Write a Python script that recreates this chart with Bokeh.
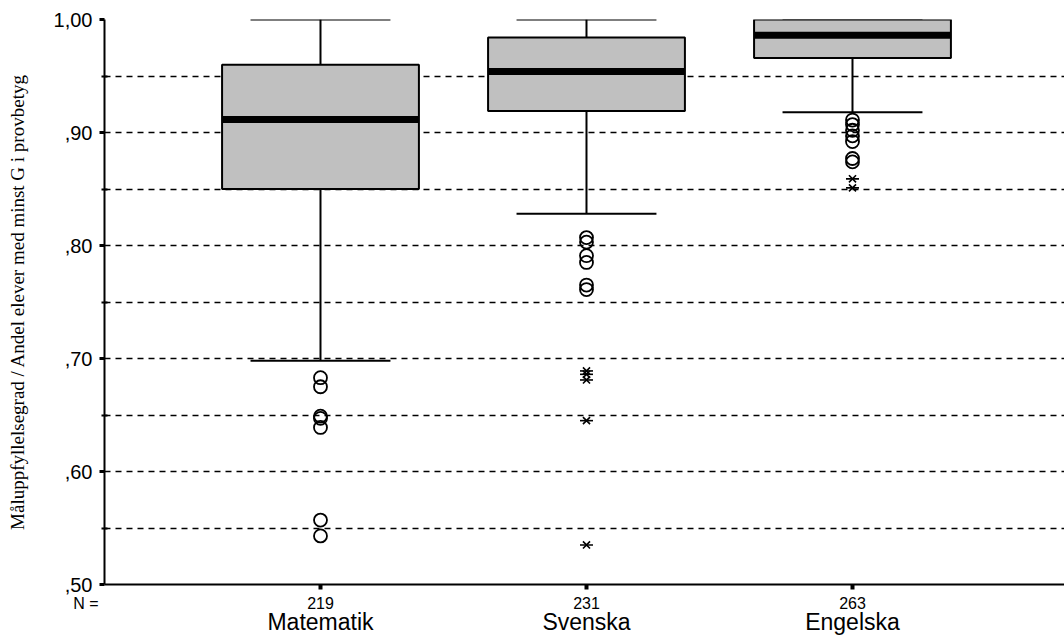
from bokeh.plotting import figure
from bokeh.models import Range1d, FixedTicker, CustomJSTickFormatter, LinearAxis, Label, ColumnDataSource
from bokeh.embed import file_html
from bokeh.resources import INLINE

# ---------------- data ----------------
categories = ["Matematik", "Svenska", "Engelska"]
n_values = [219, 231, 263]
q1 = [0.850, 0.919, 0.966]
median = [0.9115, 0.954, 0.986]
q3 = [0.960, 0.984, 1.000]
whisker_low = [0.698, 0.828, 0.918]
whisker_high = [1.000, 1.000, 1.000]

mat_circles = [0.683, 0.675, 0.649, 0.647, 0.639, 0.557, 0.543]
sve_circles = [0.807, 0.803, 0.791, 0.785, 0.765, 0.761]
sve_stars = [0.689, 0.686, 0.681, 0.645, 0.535]
eng_circles = [0.911, 0.907, 0.902, 0.897, 0.892, 0.877, 0.874]
eng_stars = [0.859, 0.851]

y_ticks = [0.5, 0.6, 0.7, 0.8, 0.9, 1.0]
y_minor = [0.55, 0.65, 0.75, 0.85, 0.95]

# ---------------- figure ----------------
xs = [i + 1 for i in range(len(categories))]
x0 = 0.188
frame_w = 960
unit_px = 266.0
px_per_y = 565 / 0.5

p = figure(width=1064, height=644, output_backend="svg", toolbar_location=None,
           x_axis_location=None,
           x_range=Range1d(x0, x0 + frame_w / unit_px), y_range=Range1d(0.5, 1.0),
           min_border_left=104, min_border_right=0, min_border_top=19, min_border_bottom=60)
p.outline_line_color = None
p.background_fill_color = "white"
p.border_fill_color = "white"

# grid
p.xgrid.visible = False
p.ygrid.ticker = FixedTicker(ticks=y_ticks, minor_ticks=y_minor)
p.ygrid.grid_line_color = "black"
p.ygrid.grid_line_dash = "6 5"
p.ygrid.grid_line_width = 1.5
p.ygrid.minor_grid_line_color = "black"
p.ygrid.minor_grid_line_dash = "6 5"
p.ygrid.minor_grid_line_width = 1.5

# y axis
yax = p.yaxis[0]
yax.ticker = FixedTicker(ticks=y_ticks, minor_ticks=y_minor)
yax.formatter = CustomJSTickFormatter(code="return tick >= 0.995 ? '1,00' : ',' + Math.round(tick*100).toString();")
yax.axis_line_color = "black"
yax.axis_line_width = 2
yax.major_tick_line_color = "black"
yax.major_tick_line_width = 3
yax.major_tick_out = 5
yax.major_tick_in = 0
yax.minor_tick_line_color = "black"
yax.minor_tick_line_width = 2
yax.minor_tick_out = 3
yax.minor_tick_in = 3
yax.major_label_text_font = "Liberation Sans"
yax.major_label_text_font_size = "20px"
yax.major_label_text_color = "black"
yax.major_label_standoff = 7
yax.axis_label = "Måluppfyllelsegrad / Andel elever med minst G i provbetyg"
yax.axis_label_text_font = "Liberation Serif"
yax.axis_label_text_font_style = "normal"
yax.axis_label_text_font_size = "19px"
yax.axis_label_text_color = "black"
yax.axis_label_standoff = 23

# x axis with N values
nax = LinearAxis(ticker=FixedTicker(ticks=xs),
                 major_label_overrides={x: str(n) for x, n in zip(xs, n_values)})
nax.axis_line_color = "black"
nax.axis_line_width = 2
nax.major_tick_line_color = "black"
nax.major_tick_line_width = 4
nax.major_tick_out = 5
nax.major_tick_in = 0
nax.minor_tick_line_color = None
nax.major_label_text_font = "Liberation Sans"
nax.major_label_text_font_size = "16px"
nax.major_label_text_color = "black"
nax.major_label_standoff = 7
p.add_layout(nax, "below")

# category names row
cax = LinearAxis(ticker=FixedTicker(ticks=xs),
                 major_label_overrides={x: c for x, c in zip(xs, categories)})
cax.axis_line_color = None
cax.major_tick_line_color = None
cax.minor_tick_line_color = None
cax.major_tick_out = 0
cax.major_tick_in = 0
cax.major_label_standoff = -3
cax.major_label_text_font = "Liberation Sans"
cax.major_label_text_font_size = "23px"
cax.major_label_text_color = "black"
p.add_layout(cax, "below")

# "N =" caption, left of the N row (placed in a side panel so it is not clipped to the frame)
p.add_layout(Label(x=x0 - 6 / unit_px, y=0.5 - 19 / px_per_y, text="N =",
                   text_align="right", text_baseline="middle",
                   text_font="Liberation Sans", text_font_size="16px", text_color="black"),
             "above")

# boxes
box_w = 0.74
cap_w = 0.526
src = ColumnDataSource(dict(x=xs, q1=q1, q3=q3, med=median, lo=whisker_low, hi=whisker_high,
                            xl=[x - box_w / 2 for x in xs], xr=[x + box_w / 2 for x in xs],
                            cl=[x - cap_w / 2 for x in xs], cr=[x + cap_w / 2 for x in xs]))

p.segment(x0="x", y0="q3", x1="x", y1="hi", source=src, line_color="black", line_width=2)
p.segment(x0="x", y0="q1", x1="x", y1="lo", source=src, line_color="black", line_width=2)
p.segment(x0="cl", y0="hi", x1="cr", y1="hi", source=src, line_color="black", line_width=2)
p.segment(x0="cl", y0="lo", x1="cr", y1="lo", source=src, line_color="black", line_width=2)
p.vbar(x="x", width=box_w, bottom="q1", top="q3", source=src,
       fill_color="#c0c0c0", line_color="black", line_width=2)
p.segment(x0="xl", y0="med", x1="xr", y1="med", source=src, line_color="black",
          line_width=7, line_cap="butt")

# outliers
circ_x = [xs[0]] * len(mat_circles) + [xs[1]] * len(sve_circles) + [xs[2]] * len(eng_circles)
circ_y = mat_circles + sve_circles + eng_circles
p.scatter(circ_x, circ_y, marker="circle", size=13, fill_color=None,
          line_color="black", line_width=1.8)
star_x = [xs[1]] * len(sve_stars) + [xs[2]] * len(eng_stars)
star_y = sve_stars + eng_stars
p.scatter(star_x, star_y, marker="x", size=10, line_color="black", line_width=1.6)
p.scatter(star_x, star_y, marker="dash", size=13, line_color="black", line_width=1.6)

open("out.html", "w").write(file_html(p, INLINE))
